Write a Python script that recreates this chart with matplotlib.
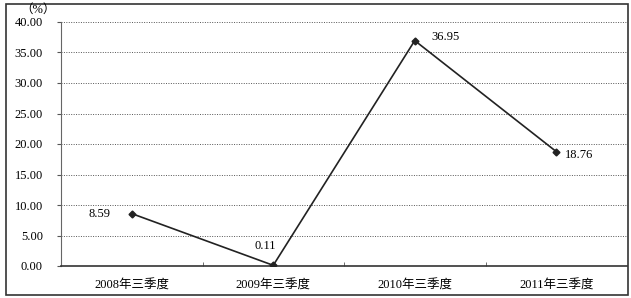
import matplotlib.pyplot as plt
from matplotlib.patches import Rectangle

plt.rcParams['font.family'] = ['Liberation Serif', 'Noto Sans CJK SC']
plt.rcParams['font.size'] = 9

quarters = ['2008年三季度', '2009年三季度', '2010年三季度', '2011年三季度']
values = [8.59, 0.11, 36.95, 18.76]
yticks = [0, 5, 10, 15, 20, 25, 30, 35, 40]

fig = plt.figure(figsize=(6.31, 2.98), dpi=100)
ax = fig.add_axes([61 / 631, 32 / 298, 566 / 631, 244 / 298])

x = list(range(len(quarters)))
ax.plot(x, values, color='#222222', lw=1.2, marker='D', ms=3.5, zorder=3)

# value labels
offsets = [(-0.23, 0.0), (-0.06, 3.1), (0.22, 0.6), (0.16, -0.5)]
for i, v in enumerate(values):
    dx, dy = offsets[i]
    ax.text(i + dx, v + dy, f'{v:.2f}', ha='center', va='center', fontsize=9)

ax.set_xlim(-0.5, 3.5)
ax.set_ylim(0, 40)
ax.set_yticks(yticks)
ax.set_yticklabels([f'{t:.2f}' for t in yticks])
ax.set_xticks(x)
ax.set_xticklabels(quarters)
ax.tick_params(axis='x', length=0, pad=10)
ax.tick_params(axis='y', length=3, direction='out', pad=10, color='#555555')
# category separators on the x axis
ax.set_xticks([0.5, 1.5, 2.5], minor=True)
ax.tick_params(axis='x', which='minor', length=3, direction='in', color='#555555')

ax.grid(axis='y', ls=(0, (1, 1.5)), color='#555555', lw=0.7)
for s in ['top', 'right']:
    ax.spines[s].set_visible(False)
ax.spines['left'].set_color('#666666')
ax.spines['bottom'].set_color('#333333')
ax.spines['bottom'].set_linewidth(1.2)

fig.text(20 / 631, 1 - 10 / 298, '（%）', ha='left', va='center', fontsize=9)
fig.patches.append(Rectangle((6 / 631, 3 / 298), 622 / 631, 291 / 298,
                             transform=fig.transFigure, fill=False,
                             edgecolor='#333333', lw=1.2))

fig.savefig('out.png', dpi=100)
